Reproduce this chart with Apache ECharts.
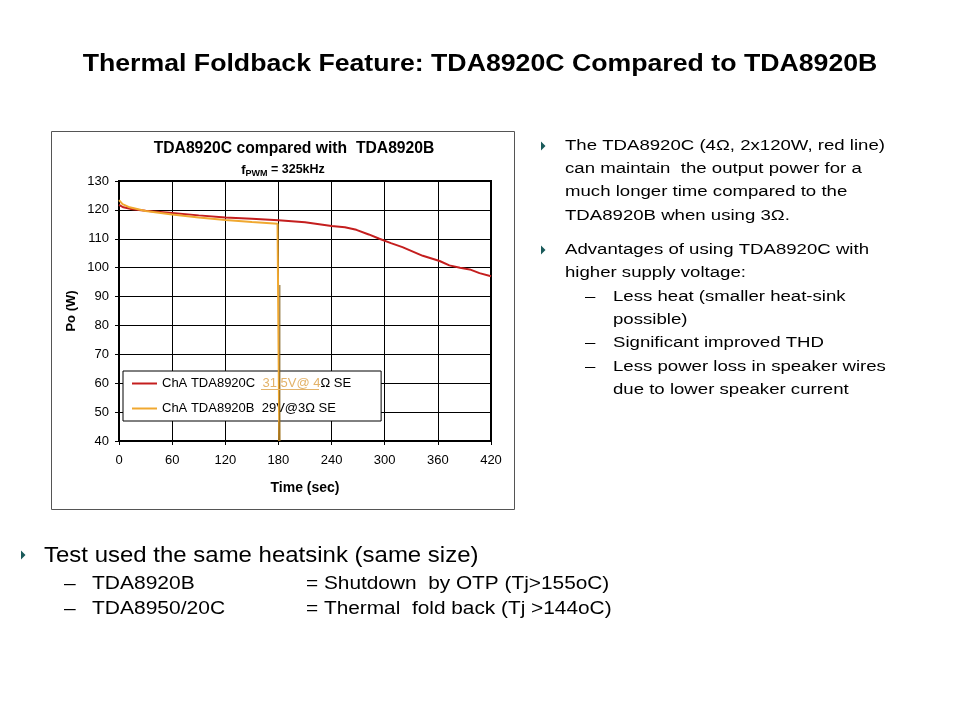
<!DOCTYPE html>
<html>
<head>
<meta charset="utf-8">
<script src="https://cdn.jsdelivr.net/npm/echarts@6/dist/echarts.min.js"></script>
<style>
html,body{margin:0;padding:0;background:#fff;}
#c{width:960px;height:720px;}
</style>
</head>
<body>
<div id="c"></div>
<script>
// ---- data ----
const yTicks = [40, 50, 60, 70, 80, 90, 100, 110, 120, 130];
const xTicks = [0, 60, 120, 180, 240, 300, 360, 420];
const timeC = [0, 5, 15, 30, 60, 90, 120, 150, 180, 210, 240, 255, 268, 282, 294, 307, 320, 343, 362, 373, 385, 396, 407, 420];
const powerC = [121.7, 120.9, 120.2, 119.7, 118.9, 118.1, 117.4, 116.9, 116.4, 115.7, 114.4, 114.0, 113.1, 111.5, 110.0, 108.5, 107.1, 104.1, 102.3, 100.8, 100.0, 99.4, 98.1, 97.0];
const timeB = [0, 4, 12, 30, 60, 90, 120, 150, 179, 181, 181];
const powerB = [123.4, 122.0, 120.9, 119.6, 118.4, 117.4, 116.5, 115.8, 115.2, 115.2, 40];
const timeShadow = [181.6, 181.6];
const powerShadow = [94, 40];
const nameC = 'ChA TDA8920C  31.5V@ 4Ω SE';
const nameB = 'ChA TDA8920B  29V@3Ω SE';

const rightLines = [
  {t:'bullet', y:146, s:'The TDA8920C (4Ω, 2x120W, red line)'},
  {t:'cont', y:169, s:'can maintain  the output power for a'},
  {t:'cont', y:192, s:'much longer time compared to the'},
  {t:'cont', y:216, s:'TDA8920B when using 3Ω.'},
  {t:'bullet', y:250, s:'Advantages of using TDA8920C with'},
  {t:'cont', y:273, s:'higher supply voltage:'},
  {t:'dash', y:297, s:'Less heat (smaller heat-sink'},
  {t:'cont2', y:320, s:'possible)'},
  {t:'dash', y:343, s:'Significant improved THD'},
  {t:'dash', y:367, s:'Less power loss in speaker wires'},
  {t:'cont2', y:390, s:'due to lower speaker current'}
];

const zip = (a, b) => a.map((v, i) => [v, b[i]]);
const FONT = 'Liberation Sans, Arial, sans-serif';

const graphics = [];
function txt(x, y, s, font, sx, align) {
  graphics.push({type:'text', x:x, y:y, scaleX:sx || 1,
    style:{text:s, font:font + ' ' + FONT, fill:'#000', align:align || 'left', verticalAlign:'middle'}});
}
function bullet(x, y) {
  graphics.push({type:'polygon', shape:{points:[[x, y - 4.5], [x + 4.5, y], [x, y + 4.5]]}, style:{fill:'#1a5a5a'}});
}
// outer chart frame
graphics.push({type:'rect', shape:{x:51.5, y:131.5, width:463, height:378}, style:{fill:'none', stroke:'#555', lineWidth:1}, z:0});
// slide title
txt(480, 65, 'Thermal Foldback Feature: TDA8920C Compared to TDA8920B', 'bold 23px', 1.16, 'center');
// chart titles
txt(294, 149, 'TDA8920C compared with  TDA8920B', 'bold 15.7px', 1, 'center');
graphics.push({type:'text', x:283, y:170, style:{
  text:'{f|f}{s|PWM}{n| = 325kHz}', align:'center', verticalAlign:'middle',
  rich:{f:{font:'bold 13px '+FONT, fill:'#000'}, s:{font:'bold 9px '+FONT, fill:'#000', padding:[8,0,0,0]}, n:{font:'bold 12.5px '+FONT, fill:'#000'}}
}});

// right text
rightLines.forEach(l => {
  let x = 565;
  if (l.t === 'bullet') bullet(541, l.y);
  if (l.t === 'dash') { txt(585, l.y, '–', '15.5px', 1.2); x = 613; }
  if (l.t === 'cont2') x = 613;
  txt(x, l.y, l.s, '15.5px', 1.2);
});
// bottom text
bullet(21, 555);
txt(44, 556, 'Test used the same heatsink (same size)', '22px', 1.09);
txt(64, 584, '–', '17.5px', 1.2);
txt(92, 584, 'TDA8920B', '17.5px', 1.2);
txt(306, 584, '= Shutdown  by OTP (Tj>155oC)', '17.5px', 1.19);
txt(64, 609, '–', '17.5px', 1.2);
txt(92, 609, 'TDA8950/20C', '17.5px', 1.2);
txt(306, 609, '= Thermal  fold back (Tj >144oC)', '17.5px', 1.19);

// underline of the hyperlink-like text in the legend
graphics.push({type:'line', shape:{x1:261, y1:389.5, x2:319, y2:389.5}, style:{stroke:'#e3b36a', lineWidth:1}, z:200});

const chart = echarts.init(document.getElementById('c'), null, {renderer:'canvas'});
chart.setOption({
  animation:false,
  backgroundColor:'#fff',
  textStyle:{fontFamily:FONT},
  grid:{left:119, top:181, width:372, height:260, show:true, borderColor:'#000', borderWidth:2, backgroundColor:'transparent'},
  xAxis:{
    type:'value', min:0, max:420, interval:60,
    name:'Time (sec)', nameLocation:'middle', nameGap:40,
    nameTextStyle:{fontWeight:'bold', fontSize:14, color:'#000'},
    axisLine:{show:true, lineStyle:{color:'#000', width:2}},
    axisTick:{show:true, inside:false, length:4, lineStyle:{color:'#000'}},
    axisLabel:{color:'#000', fontSize:13, margin:13},
    splitLine:{show:true, lineStyle:{color:'#000', width:1}}
  },
  yAxis:{
    type:'value', min:40, max:130, interval:10,
    name:'Po (W)', nameLocation:'middle', nameGap:41, nameRotate:90,
    nameTextStyle:{fontWeight:'bold', fontSize:13, color:'#000'},
    axisLine:{show:true, lineStyle:{color:'#000', width:2}},
    axisTick:{show:true, length:4, lineStyle:{color:'#000'}},
    axisLabel:{color:'#000', fontSize:13, margin:10},
    splitLine:{show:true, lineStyle:{color:'#000', width:1}}
  },
  legend:{
    left:123, top:371, orient:'vertical', itemGap:12,
    padding:[6, 30, 6, 9],
    backgroundColor:'#fff', borderColor:'#000', borderWidth:1,
    itemWidth:25, itemHeight:2, icon:'rect',
    data:[nameC, nameB],
    textStyle:{fontSize:13, color:'#000',
      rich:{a:{fontSize:13, color:'#000'}, u:{fontSize:13, color:'#e3b36a'}}},
    formatter: function(n){
      if (n === nameC) return '{a|ChA TDA8920C  }{u|31.5V@ 4}{a|Ω SE}';
      return '{a|' + n + '}';
    }
  },
  series:[
    {name:nameC, type:'line', data:zip(timeC, powerC), showSymbol:false, symbol:'none', lineStyle:{color:'#c41e1e', width:2}, itemStyle:{color:'#c41e1e'}, z:3},
    {name:nameB, type:'line', data:zip(timeB, powerB), showSymbol:false, symbol:'none', lineStyle:{color:'#f0a830', width:2}, itemStyle:{color:'#f0a830'}, z:4},
    {name:'shadow', type:'line', data:zip(timeShadow, powerShadow), showSymbol:false, symbol:'none', lineStyle:{color:'#7a5a18', width:1}, z:5, silent:true}
  ],
  graphic:graphics
});
</script>
</body>
</html>
